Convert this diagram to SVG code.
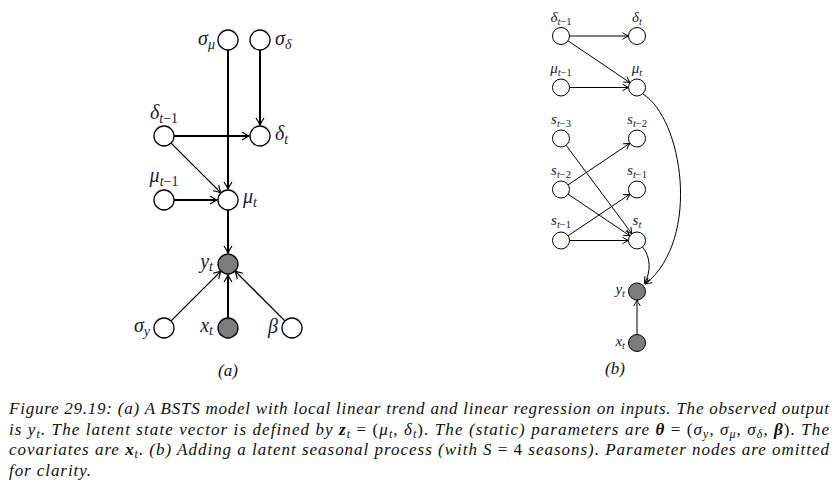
<svg xmlns="http://www.w3.org/2000/svg" width="839" height="485" viewBox="0 0 839 485">
<style>
.bg{fill:#fff}
.n{fill:#fff;stroke:#000;stroke-width:1.3}
.nb{fill:#fff;stroke:#000;stroke-width:1}
.obs{fill:#7c7c7c}
.e{fill:none;stroke:#000;stroke-width:2}
.et{fill:none;stroke:#000;stroke-width:1.3}
.eb{fill:none;stroke:#000;stroke-width:1}
.ma{font-family:"Liberation Serif",serif;font-style:italic;font-size:20px;fill:#1a1a3a}
.mb{font-family:"Liberation Serif",serif;font-style:italic;font-size:15px;fill:#1a1a3a}
.s{font-size:70%}
.up{font-style:normal}
.cap{font-family:"Liberation Serif",serif;font-style:italic;font-size:17px;fill:#111}
.bd{font-weight:bold}
</style>
<defs>
<marker id="arA" viewBox="-8 -5 9 10" refX="0" refY="0" markerWidth="9" markerHeight="10" markerUnits="userSpaceOnUse" orient="auto">
<path d="M -7 -4 Q -2.5 -1 0 0 Q -2.5 1 -7 4" fill="none" stroke="#000" stroke-width="1.2"/>
</marker>
<marker id="arB" viewBox="-8 -5 9 10" refX="0" refY="0" markerWidth="9" markerHeight="10" markerUnits="userSpaceOnUse" orient="auto">
<path d="M -6 -3.3 Q -2 -0.8 0 0 Q -2 0.8 -6 3.3" fill="none" stroke="#000" stroke-width="1"/>
</marker>
</defs>
<rect class="bg" x="0" y="0" width="839" height="485"/>

<g id="edges">
<line class="e" x1="228" y1="50" x2="228" y2="189" marker-end="url(#arA)"/>
<line class="e" x1="260" y1="50" x2="260" y2="125" marker-end="url(#arA)"/>
<line class="e" x1="174" y1="136" x2="249" y2="136" marker-end="url(#arA)"/>
<line class="et" x1="171.1" y1="143.1" x2="220.9" y2="192.9" marker-end="url(#arA)"/>
<line class="e" x1="174" y1="200" x2="217" y2="200" marker-end="url(#arA)"/>
<line class="e" x1="228" y1="210" x2="228" y2="253" marker-end="url(#arA)"/>
<line class="et" x1="171.1" y1="320.9" x2="220.9" y2="271.1" marker-end="url(#arA)"/>
<line class="e" x1="228" y1="318" x2="228" y2="275" marker-end="url(#arA)"/>
<line class="et" x1="284.9" y1="320.9" x2="235.1" y2="271.1" marker-end="url(#arA)"/>

<line class="eb" x1="569.5" y1="36" x2="628.5" y2="36" marker-end="url(#arB)"/>
<line class="eb" x1="568" y1="40.8" x2="630" y2="82.7" marker-end="url(#arB)"/>
<line class="eb" x1="569.5" y1="87.5" x2="628.5" y2="87.5" marker-end="url(#arB)"/>
<line class="eb" x1="566.1" y1="145.3" x2="631.9" y2="233.7" marker-end="url(#arB)"/>
<line class="eb" x1="568.1" y1="184.8" x2="629.9" y2="143.2" marker-end="url(#arB)"/>
<line class="eb" x1="568.1" y1="194.2" x2="629.9" y2="235.8" marker-end="url(#arB)"/>
<line class="eb" x1="568.1" y1="235.8" x2="629.9" y2="194.2" marker-end="url(#arB)"/>
<line class="eb" x1="569.5" y1="240.5" x2="628.5" y2="240.5" marker-end="url(#arB)"/>
<path class="eb" d="M 643 94 C 682 118, 702 238, 645.5 284" marker-end="url(#arB)"/>
<path class="eb" d="M 642.5 247 C 651 257, 651 272, 644.5 283" marker-end="url(#arB)"/>
<line class="eb" x1="637" y1="334.5" x2="637" y2="300" marker-end="url(#arB)"/>
</g>

<g id="a_sigma_mu"><circle class="n" cx="228" cy="40" r="10"/><text class="ma" x="215" y="45" text-anchor="end">σ<tspan class="s" dy="4">μ</tspan></text></g>
<g id="a_sigma_delta"><circle class="n" cx="260" cy="40" r="10"/><text class="ma" x="275" y="45">σ<tspan class="s" dy="4">δ</tspan></text></g>
<g id="a_delta_prev"><circle class="n" cx="164" cy="136" r="10"/><text class="ma" x="164" y="119" text-anchor="middle">δ<tspan class="s" dy="4">t<tspan class="up">−1</tspan></tspan></text></g>
<g id="a_delta_t"><circle class="n" cx="260" cy="136" r="10"/><text class="ma" x="275" y="140">δ<tspan class="s" dy="4">t</tspan></text></g>
<g id="a_mu_prev"><circle class="n" cx="164" cy="200" r="10"/><text class="ma" x="164" y="182" text-anchor="middle">μ<tspan class="s" dy="4">t<tspan class="up">−1</tspan></tspan></text></g>
<g id="a_mu_t"><circle class="n" cx="228" cy="200" r="10"/><text class="ma" x="243" y="203">μ<tspan class="s" dy="4">t</tspan></text></g>
<g id="a_y"><circle class="n obs" cx="228" cy="264" r="10"/><text class="ma" x="213" y="268" text-anchor="end">y<tspan class="s" dy="3">t</tspan></text></g>
<g id="a_sigma_y"><circle class="n" cx="164" cy="328" r="10"/><text class="ma" x="150" y="332" text-anchor="end">σ<tspan class="s" dy="4">y</tspan></text></g>
<g id="a_x"><circle class="n obs" cx="228" cy="328" r="10"/><text class="ma" x="213" y="332" text-anchor="end">x<tspan class="s" dy="3">t</tspan></text></g>
<g id="a_beta"><circle class="n" cx="292" cy="328" r="10"/><text class="ma" x="278" y="333" text-anchor="end">β</text></g>
<text class="cap" x="228" y="376" text-anchor="middle" font-size="15">(a)</text>

<g id="b_delta_prev"><circle class="nb" cx="561" cy="36" r="8.5"/><text class="mb" x="561" y="22" text-anchor="middle">δ<tspan class="s" dy="3">t<tspan class="up">−1</tspan></tspan></text></g>
<g id="b_delta_t"><circle class="nb" cx="637" cy="36" r="8.5"/><text class="mb" x="637" y="22" text-anchor="middle">δ<tspan class="s" dy="3">t</tspan></text></g>
<g id="b_mu_prev"><circle class="nb" cx="561" cy="87.5" r="8.5"/><text class="mb" x="561" y="73" text-anchor="middle">μ<tspan class="s" dy="3">t<tspan class="up">−1</tspan></tspan></text></g>
<g id="b_mu_t"><circle class="nb" cx="637" cy="87.5" r="8.5"/><text class="mb" x="637" y="73" text-anchor="middle">μ<tspan class="s" dy="3">t</tspan></text></g>
<g id="b_s_t3"><circle class="nb" cx="561" cy="138.5" r="8.5"/><text class="mb" x="561" y="124" text-anchor="middle">s<tspan class="s" dy="3">t<tspan class="up">−3</tspan></tspan></text></g>
<g id="b_s_t2r"><circle class="nb" cx="637" cy="138.5" r="8.5"/><text class="mb" x="637" y="124" text-anchor="middle">s<tspan class="s" dy="3">t<tspan class="up">−2</tspan></tspan></text></g>
<g id="b_s_t2l"><circle class="nb" cx="561" cy="189.5" r="8.5"/><text class="mb" x="561" y="175" text-anchor="middle">s<tspan class="s" dy="3">t<tspan class="up">−2</tspan></tspan></text></g>
<g id="b_s_t1r"><circle class="nb" cx="637" cy="189.5" r="8.5"/><text class="mb" x="637" y="175" text-anchor="middle">s<tspan class="s" dy="3">t<tspan class="up">−1</tspan></tspan></text></g>
<g id="b_s_t1l"><circle class="nb" cx="561" cy="240.5" r="8.5"/><text class="mb" x="561" y="225" text-anchor="middle">s<tspan class="s" dy="3">t<tspan class="up">−1</tspan></tspan></text></g>
<g id="b_s_t"><circle class="nb" cx="637" cy="240.5" r="8.5"/><text class="mb" x="637" y="225" text-anchor="middle">s<tspan class="s" dy="3">t</tspan></text></g>
<g id="b_y"><circle class="nb obs" cx="637" cy="291.5" r="8.5"/><text class="mb" x="625" y="294" text-anchor="end">y<tspan class="s" dy="3">t</tspan></text></g>
<g id="b_x"><circle class="nb obs" cx="637" cy="343" r="8.5"/><text class="mb" x="625" y="346" text-anchor="end">x<tspan class="s" dy="3">t</tspan></text></g>
<text class="cap" x="615" y="374" text-anchor="middle" font-size="15">(b)</text>

<g id="caption">
<text class="cap" x="9" y="414" textLength="820" lengthAdjust="spacing">Figure 29.19: (a) A BSTS model with local linear trend and linear regression on inputs. The observed output</text>
<text class="cap" x="9" y="434.5" textLength="820" lengthAdjust="spacing">is y<tspan class="s" dy="3">t</tspan><tspan dy="-3">. The latent state vector is defined by </tspan><tspan class="bd">z</tspan><tspan class="s" dy="3">t</tspan><tspan dy="-3" class="up"> = (</tspan>μ<tspan class="s" dy="3">t</tspan><tspan dy="-3" class="up">, </tspan>δ<tspan class="s" dy="3">t</tspan><tspan dy="-3" class="up">)</tspan>. The (static) parameters are <tspan class="bd">θ</tspan><tspan class="up"> = (</tspan>σ<tspan class="s" dy="3">y</tspan><tspan dy="-3" class="up">, </tspan>σ<tspan class="s" dy="3">μ</tspan><tspan dy="-3" class="up">, </tspan>σ<tspan class="s" dy="3">δ</tspan><tspan dy="-3" class="up">, </tspan><tspan class="bd">β</tspan><tspan class="up">)</tspan>. The</text>
<text class="cap" x="9" y="455" textLength="820" lengthAdjust="spacing">covariates are <tspan class="bd">x</tspan><tspan class="s" dy="3">t</tspan><tspan dy="-3">. (b) Adding a latent seasonal process (with S </tspan><tspan class="up">= 4</tspan> seasons). Parameter nodes are omitted</text>
<text class="cap" x="9" y="475.5" textLength="82" lengthAdjust="spacing">for clarity.</text>
</g>
</svg>
